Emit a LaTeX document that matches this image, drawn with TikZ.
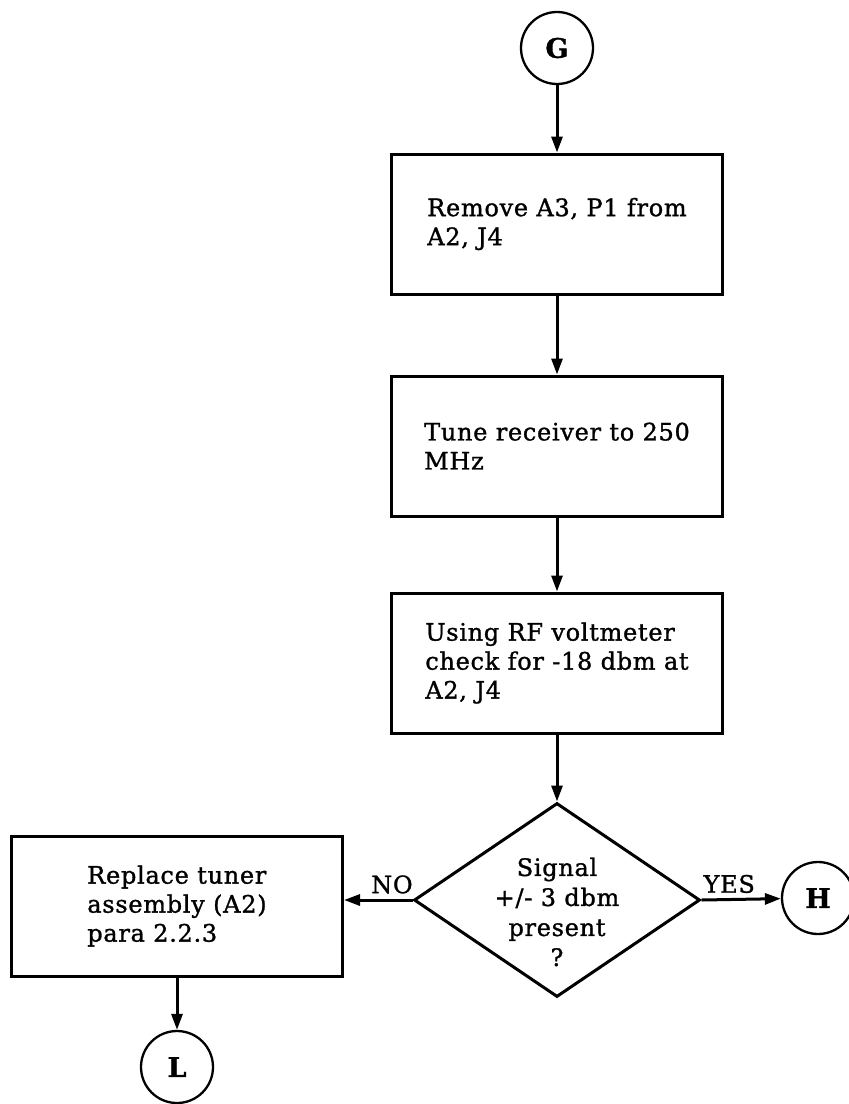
\documentclass[tikz,border=0pt]{standalone}
\usepackage{fontspec}
\setmainfont[LetterSpace=3, FakeBold=1.2]{DejaVu Serif}
\usepackage{tikz}
\usetikzlibrary{shapes.geometric, arrows.meta, positioning}

\begin{document}
\begin{tikzpicture}[
    x=1pt, y=-1pt,
    ->,
    >={Triangle[length=16pt, width=11pt]},
    line width=3pt,
    every node/.style={font=\fontsize{24}{29}\selectfont},
    conn/.style={draw, circle, minimum size=72pt, inner sep=0pt, line width=2.3pt, font=\fontsize{27}{29}\selectfont\bfseries},
    stepbox/.style={draw, rectangle, minimum width=331pt, minimum height=140pt, align=left, inner sep=0pt},
    decision/.style={draw, diamond, minimum width=286pt, minimum height=194pt, inner sep=0pt},
    edgelab/.style={inner sep=5pt}
]
\useasboundingbox (0,0) rectangle (849,1104);

% --- Main column ---
\node[conn] (cG) at (557,48) {G};
\node[stepbox] (remove) at (557,224) {Remove A3, P1 from\\A2, J4};
\node[stepbox] (tune) at (557,446) {Tune receiver to 250\\MHz};
\node[stepbox] (check) at (557,663) {Using RF voltmeter\\check for -18 dbm at\\A2, J4};
\node[decision] (signal) at (557,900) {};
\node[align=center, font=\fontsize{24}{30}\selectfont, yshift=-12pt] (signaltxt) at (signal.center) {Signal\\+/- 3 dbm\\present\\?};

% --- Branches ---
\node[stepbox] (replace) at (177,906) {Replace tuner\\assembly (A2)\\para 2.2.3};
\node[conn] (cH) at (818,898) {H};
\node[conn] (cL) at (177,1067) {L};

% --- Connectors ---
\draw (cG) -- (remove);
\draw (remove) -- (tune);
\draw (tune) -- (check);
\draw (check) -- (signal);
\draw (signal.west) -- node[edgelab, above, pos=0.3] {NO} (signal.west -| replace.east);
\draw (signal.east) -- node[edgelab, above, pos=0.35] {YES} (cH);
\draw (replace) -- (cL);

\end{tikzpicture}
\end{document}
